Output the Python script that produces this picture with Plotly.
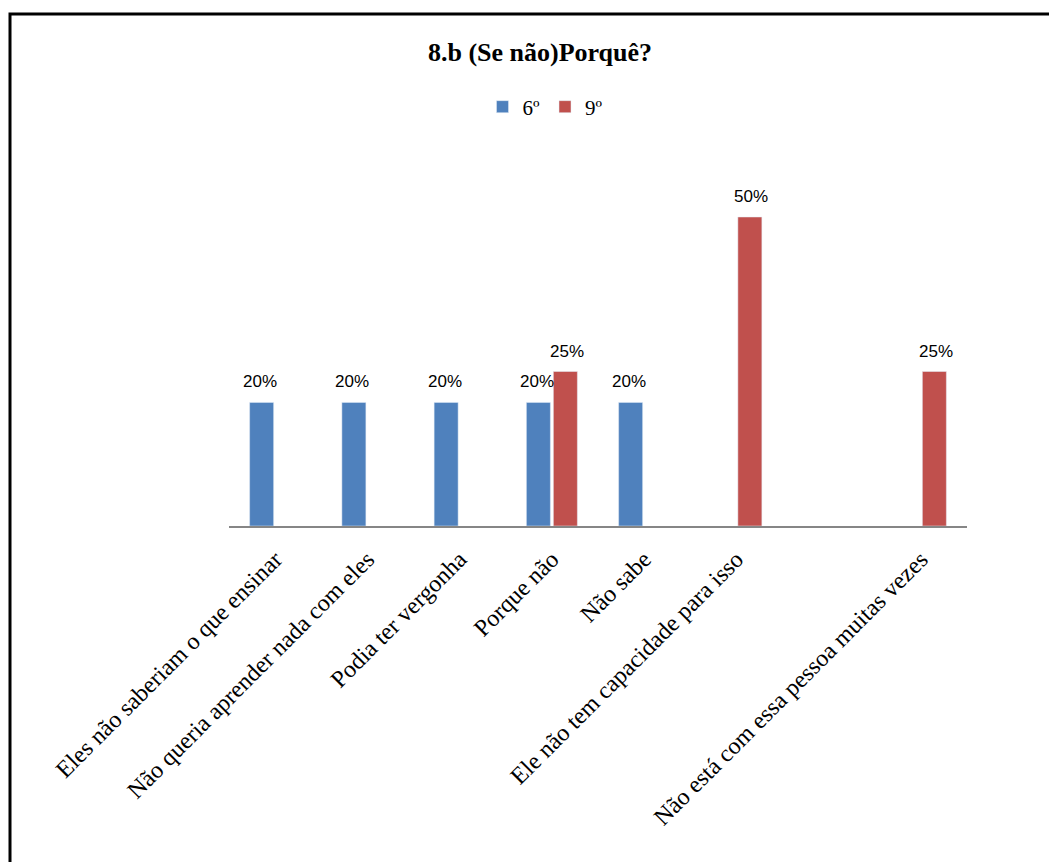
import plotly.graph_objects as go

# Survey answers (percent of respondents per grade)
categories = [
    "Eles não saberiam o que ensinar",
    "Não queria aprender nada com eles",
    "Podia ter vergonha",
    "Porque não",
    "Não sabe",
    "Ele não tem capacidade para isso",
    " ",
    "Não está com essa pessoa muitas vezes",
]
grade_6 = [20, 20, 20, 20, 20, None, None, None]
grade_9 = [None, None, None, 25, None, 50, None, 25]

BLUE = "#4F81BD"
RED = "#C0504D"
SERIF = "Liberation Serif, Times New Roman, serif"
SANS = "Liberation Sans, Arial, sans-serif"

# page body adds 8px around the figure, so work in shifted pixels
OFF = 8
W, H = 1057 - OFF, 862 - OFF
M_L, M_T = 229 - OFF, 170 - OFF
M_R = W - (967 - OFF)
M_B = H - (526 - OFF)
PW, PH = W - M_L - M_R, H - M_T - M_B

fig = go.Figure()
fig.add_bar(name="6º", x=categories, y=grade_6, marker_color=BLUE)
fig.add_bar(name="9º", x=categories, y=grade_9, marker_color=RED)

# value labels above each bar
for vals, shift in ((grade_6, -15), (grade_9, 15)):
    for cat, v in zip(categories, vals):
        if v is None:
            continue
        fig.add_annotation(x=cat, y=v, text=f"{v}%", showarrow=False,
                           xshift=shift, yshift=9, yanchor="bottom",
                           font=dict(family=SANS, size=17, color="black"))

# outer black frame, runs off the right and bottom of the picture
fig.add_shape(
    type="rect", xref="paper", yref="paper",
    x0=(10 - OFF - M_L) / PW, x1=(W + 40 - M_L) / PW,
    y0=-(M_B + 40) / PH, y1=(H - M_B - (14 - OFF)) / PH,
    line=dict(color="black", width=3), layer="below",
)

fig.update_layout(
    width=W, height=H,
    margin=dict(l=M_L, r=M_R, t=M_T, b=M_B),
    paper_bgcolor="white", plot_bgcolor="white",
    barmode="group", bargap=0.415, bargroupgap=0.11,
    title=dict(text="<b>8.b (Se não)Porquê?</b>", x=(540 - OFF) / W, xanchor="center",
               y=1 - (52 - OFF) / H, yanchor="middle",
               font=dict(family=SERIF, size=26, color="black")),
    legend=dict(orientation="h", x=(545 - OFF - M_L) / PW, xanchor="center",
                y=(H - M_B - (107 - OFF)) / PH, yanchor="middle",
                font=dict(family=SERIF, size=21, color="black"),
                itemwidth=30, traceorder="normal"),
    showlegend=True,
)
fig.update_xaxes(showline=True, linecolor="#868686", linewidth=1.5,
                 ticks="", tickangle=-45, showgrid=False, ticklabelstandoff=8,
                 tickfont=dict(family=SERIF, size=24, color="black"))
fig.update_yaxes(visible=False, range=[0, PH / 6.18], showgrid=False)

fig.write_html("out.html")
